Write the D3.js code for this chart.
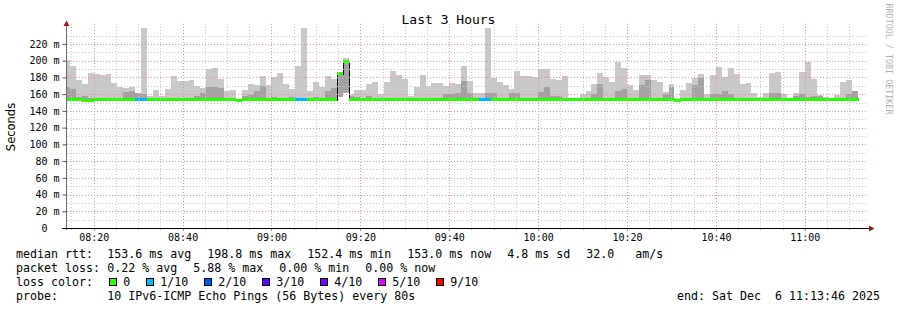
<!DOCTYPE html>
<html>
<head>
<meta charset="utf-8">
<script src="https://cdn.jsdelivr.net/npm/d3@7"></script>
<style>
  html, body { margin: 0; padding: 0; background: #fff; }
  svg { display: block; }
  text { font-family: "DejaVu Sans Mono", monospace; fill: #000; white-space: pre; }
</style>
</head>
<body>
<svg id="chart"></svg>
<script>
// one column per 80 s step, first one starts a little before the graph start
const firstStep = new Date(2025, 11, 6, 8, 13, 20);
const stepSeconds = 80;
const graphStart = new Date(2025, 11, 6, 8, 13, 46);
const graphEnd = new Date(2025, 11, 6, 11, 13, 46);

// median rtt per step (ms)
const median = [
  153.2, 153.2, 153.2, 152.6, 152.6, 153.2, 153.2, 153.2, 153.2, 153.2,
  153.2, 153.2, 153.2, 153.2, 153.2, 153.2, 153.2, 153.2, 153.2, 153.2,
  153.2, 153.2, 153.2, 153.2, 153.2, 153.2, 153.2, 153.2, 153.2, 152.4,
  153.2, 153.2, 153.2, 153.2, 153.2, 153.2, 153.2, 153.2, 153.2, 153.2,
  153.2, 153.2, 153.2, 153.2, 153.2, 153.2, 185.0, 199.6, 153.2, 153.2,
  153.2, 153.2, 153.2, 153.2, 153.2, 153.2, 153.2, 153.2, 153.2, 153.2,
  153.2, 153.2, 153.2, 153.2, 153.2, 153.2, 153.2, 153.2, 153.2, 153.2,
  153.2, 153.2, 153.2, 153.2, 153.2, 153.2, 153.2, 153.2, 153.2, 153.2,
  153.2, 153.2, 153.2, 153.2, 153.2, 153.2, 153.2, 153.2, 153.2, 153.2,
  153.2, 153.2, 153.2, 153.2, 153.2, 153.2, 153.2, 153.2, 153.2, 153.2,
  153.2, 153.2, 153.2, 152.4, 153.2, 153.2, 153.2, 153.2, 153.2, 153.2,
  153.2, 153.2, 153.2, 153.2, 153.2, 153.2, 153.2, 153.2, 153.2, 153.2,
  153.2, 153.2, 153.2, 153.2, 153.2, 153.2, 153.2, 153.2, 153.2, 153.2,
  153.2, 153.2, 153.2, 153.2
];

// smoke: outer (light) top, inner (dark) top, bottom (ms)
const smokeHigh = [
  200.8, 193.6, 176.8, 172, 185.2, 184, 182.8, 184, 173.2, 168.8,
  167.2, 168.4, 160.8, 238.8, 158, 164.8, 158, 166, 181.6, 175.6,
  175.6, 176.8, 170, 167.2, 190.4, 191.2, 178.4, 163.6, 164.8, 152.6,
  164.8, 171.6, 170.8, 181.6, 170.8, 180, 185.2, 172, 166, 193.6,
  238.8, 163.6, 174.4, 168.4, 181.6, 178, 185, 203, 160, 164.8,
  164.8, 171.6, 174.4, 159.6, 174.4, 187.6, 182.8, 178.4, 158, 168.4,
  182.8, 170, 173.2, 173.2, 170, 173.6, 172.4, 193.6, 176, 160.8,
  160.8, 239.2, 179.6, 174.4, 171.2, 166, 188, 181.6, 181.6, 180.8,
  189.6, 189.6, 178.4, 176.8, 181.6, 154.8, 155.6, 160, 164, 172,
  185.2, 180.4, 174.4, 198.4, 191.2, 170.8, 164.8, 182.8, 182.8, 176.8,
  174.4, 162.4, 172, 152.6, 164.8, 173.2, 179.2, 184, 159.6, 182.8,
  192.4, 180.4, 191.2, 184, 172, 173.2, 161.2, 156.4, 161.2, 185.2,
  186.4, 160, 155, 161.2, 186.4, 198.4, 178, 158.8, 156.4, 154,
  158.8, 174.4, 176.8, 163.6
];
const smokeDark = [
  168.8, 166, 156.8, 158, 155.6, 155, 154, 154, 154, 155.6,
  162, 163.6, 160.8, 160, 154, 154, 154, 154, 155, 155,
  154, 154, 158, 160.8, 168.8, 168.8, 166.8, 154, 154, 152.6,
  158, 158.8, 163.6, 170, 154, 156, 154, 154, 156, 154,
  154, 154, 156.4, 154, 163.6, 167, 185, 199, 158, 157,
  154, 158, 154, 154, 154, 154, 154, 154, 154, 154,
  154, 154, 155, 155, 160.4, 160.4, 161.6, 175.6, 161.6, 155,
  155, 160.8, 160.8, 154, 154, 161.6, 161.6, 154, 154, 154,
  162.8, 168.4, 158, 158, 154, 153.5, 154, 154, 154, 159.6,
  172, 154, 154, 163.6, 166, 154, 154, 170.8, 176.8, 154,
  154, 160, 168.8, 152.6, 154, 154, 170.8, 179.6, 154, 160,
  160, 163.6, 160, 154, 154, 154, 154, 154.8, 154.8, 161.2,
  161.2, 154, 153.5, 158, 160.4, 157, 158, 158, 154, 153.5,
  154, 155, 159.6, 163.6
];
const smokeLow = [
  152, 152, 152, 152, 152, 152, 152, 152, 152, 152,
  152, 152, 152, 152, 152, 152, 152, 152, 152, 152,
  152, 152, 152, 152, 152, 152, 152, 152, 152, 152,
  152, 152, 152, 152, 152, 152, 152, 152, 152, 152,
  152, 152, 152, 152, 152, 152, 157, 161, 153, 152,
  152, 152, 152, 152, 152, 152, 152, 152, 152, 152,
  152, 152, 152, 152, 152, 152, 152, 152, 152, 152,
  152, 152, 152, 152, 152, 152, 152, 152, 152, 152,
  152, 152, 152, 152, 152, 152, 152, 152, 152, 152,
  152, 152, 152, 152, 152, 152, 152, 152, 152, 152,
  152, 152, 152, 152, 152, 152, 152, 152, 152, 152,
  152, 152, 152, 152, 152, 152, 152, 152, 152, 152,
  152, 152, 152, 152, 152, 152, 152, 152, 152, 152,
  152, 152, 152, 152
];

// loss bucket per step (index into lossLabels)
const loss = [
  0, 0, 0, 0, 0, 0, 0, 0, 0, 0,
  0, 0, 1, 1, 0, 0, 0, 0, 0, 0,
  0, 0, 0, 0, 0, 0, 0, 0, 0, 0,
  0, 0, 0, 0, 0, 0, 0, 0, 0, 1,
  1, 0, 0, 0, 0, 0, 0, 0, 0, 0,
  0, 0, 0, 0, 0, 0, 0, 0, 0, 0,
  0, 0, 0, 0, 0, 0, 0, 0, 0, 0,
  1, 1, 0, 0, 0, 0, 0, 0, 0, 0,
  0, 0, 0, 0, 0, 0, 0, 0, 0, 0,
  0, 0, 0, 0, 0, 0, 0, 0, 0, 0,
  0, 0, 0, 0, 0, 0, 0, 0, 0, 0,
  0, 0, 0, 0, 0, 0, 0, 0, 0, 0,
  0, 0, 0, 0, 0, 0, 0, 0, 0, 0,
  0, 0, 0, 0
];

const lossLabels = ['0', '1/10', '2/10', '3/10', '4/10', '5/10', '9/10'];
const lossColors = ['#26ff00', '#00b8ff', '#0059ff', '#5e00ff', '#7e00ff', '#dd00ff', '#ff0000'];

const yTicks = [0, 20, 40, 60, 80, 100, 120, 140, 160, 180, 200, 220];

const legendRtt = ['median rtt:', '153.6 ms avg', '198.8 ms max', '152.4 ms min', '153.0 ms now', '4.8 ms sd', '32.0   am/s'];
const legendLoss = ['packet loss:', '0.22 % avg', '5.88 % max', '0.00 % min', '0.00 % now'];
const probeText = '10 IPv6-ICMP Echo Pings (56 Bytes) every 80s';
const endText = 'end: Sat Dec  6 11:13:46 2025';

// ---------------------------------------------------------------
const width = 897, height = 310;
const plot = {left: 66, right: 866, top: 27.2, bottom: 228};

const svg = d3.select('#chart').attr('width', width).attr('height', height);
svg.append('rect').attr('width', width).attr('height', height).attr('fill', '#fff');

const x = d3.scaleTime().domain([graphStart, graphEnd]).range([plot.left, plot.right]);
const y = d3.scaleLinear().domain([0, 240]).range([plot.bottom, plot.top]);

svg.append('clipPath').attr('id', 'plot-clip')
  .append('rect')
  .attr('x', plot.left).attr('y', 0)
  .attr('width', plot.right - plot.left).attr('height', plot.bottom);

const steps = median.map((m, i) => {
  const t0 = d3.timeSecond.offset(firstStep, i * stepSeconds);
  return {
    t0, t1: d3.timeSecond.offset(t0, stepSeconds),
    med: m, hi: smokeHigh[i], dk: smokeDark[i], lo: smokeLow[i], loss: loss[i]
  };
});

const data = svg.append('g').attr('clip-path', 'url(#plot-clip)').attr('shape-rendering', 'crispEdges');

// smoke
data.selectAll('.smoke-light').data(steps).join('rect')
  .attr('class', 'smoke-light')
  .attr('x', d => x(d.t0)).attr('width', d => x(d.t1) - x(d.t0))
  .attr('y', d => y(d.hi)).attr('height', d => Math.max(0, y(d.lo) - y(d.hi)))
  .attr('fill', '#c8c8c8');

data.selectAll('.smoke-dark').data(steps).join('rect')
  .attr('class', 'smoke-dark')
  .attr('x', d => x(d.t0)).attr('width', d => x(d.t1) - x(d.t0))
  .attr('y', d => y(d.dk)).attr('height', d => Math.max(0, y(d.lo) - y(d.dk)))
  .attr('fill', '#a2a2a2');

// grid on top of the smoke, like rrdtool
const grid = svg.append('g').attr('shape-rendering', 'crispEdges');
const hLines = d3.range(10, 240, 10);
const vLines = d3.timeMinute.every(5).range(graphStart, graphEnd);

grid.selectAll('.hgrid').data(hLines).join('line')
  .attr('class', 'hgrid')
  .attr('x1', plot.left + 1).attr('x2', plot.right)
  .attr('y1', d => Math.round(y(d)) + 0.5).attr('y2', d => Math.round(y(d)) + 0.5)
  .attr('stroke', d => d % 20 === 0 ? '#eb9090' : '#c8c8c8')
  .attr('stroke-dasharray', '1,2');

grid.selectAll('.vgrid').data(vLines).join('line')
  .attr('class', 'vgrid')
  .attr('x1', d => Math.round(x(d)) + 0.5).attr('x2', d => Math.round(x(d)) + 0.5)
  .attr('y1', plot.top - 3).attr('y2', plot.bottom)
  .attr('stroke', d => d.getMinutes() % 20 === 0 ? '#eb9090' : '#c8c8c8')
  .attr('stroke-dasharray', '1,2');

// median line: black risers where the median jumps, loss-coloured steps
const jumps = [];
steps.forEach((d, i) => {
  if (i > 0 && Math.abs(d.med - steps[i - 1].med) > 5) jumps.push({t: d.t0, a: steps[i - 1].med, b: d.med});
});

data.selectAll('.riser').data(jumps).join('line')
  .attr('class', 'riser')
  .attr('x1', d => Math.round(x(d.t)) + 0.5).attr('x2', d => Math.round(x(d.t)) + 0.5)
  .attr('y1', d => y(d.a) + 1.5).attr('y2', d => y(d.b) + 1.5)
  .attr('stroke', '#000');

data.selectAll('.median').data(steps).join('rect')
  .attr('class', 'median')
  .attr('x', d => x(d.t0)).attr('width', d => x(d.t1) - x(d.t0) + 0.5)
  .attr('y', d => y(d.med) - 1.5).attr('height', 3)
  .attr('fill', d => lossColors[d.loss]);

// axes
const yAxis = d3.axisLeft(y).tickValues(yTicks).tickSize(4).tickPadding(3)
  .tickFormat(d => d === 0 ? '0' : `${d} m`);
const yAxisG = svg.append('g').attr('transform', `translate(${plot.left + 0.5},0)`)
  .call(yAxis)
  .call(g => g.select('.domain').remove());
yAxisG.selectAll('.tick line').attr('stroke', '#555');
yAxisG.selectAll('.tick text').attr('font-size', '10px').attr('font-family', 'DejaVu Sans Mono')
  .attr('dx', d => d === 0 ? -12 : 0);

const xMinor = d3.timeMinute.every(5).range(graphStart, graphEnd);
svg.append('g').selectAll('line').data(xMinor).join('line')
  .attr('x1', d => Math.round(x(d)) + 0.5).attr('x2', d => Math.round(x(d)) + 0.5)
  .attr('y1', plot.bottom)
  .attr('y2', d => plot.bottom + (d.getMinutes() % 20 === 0 ? 3 : 2))
  .attr('stroke', d => d.getMinutes() % 20 === 0 ? '#e07070' : '#bbb');

const xAxis = d3.axisBottom(x).ticks(d3.timeMinute.every(20)).tickSize(0).tickPadding(6)
  .tickFormat(d3.timeFormat('%H:%M'));
svg.append('g').attr('transform', `translate(0,${plot.bottom})`)
  .call(xAxis)
  .call(g => g.select('.domain').remove())
  .call(g => g.selectAll('text').attr('font-size', '10px').attr('font-family', 'DejaVu Sans Mono'));

// axis lines and arrows
svg.append('line')
  .attr('x1', plot.left + 0.5).attr('x2', plot.left + 0.5)
  .attr('y1', plot.bottom + 2).attr('y2', 24)
  .attr('stroke', '#6a6a6a');
svg.append('line')
  .attr('x1', 62).attr('x2', 870)
  .attr('y1', plot.bottom + 0.5).attr('y2', plot.bottom + 0.5)
  .attr('stroke', '#000');
svg.append('path')
  .attr('d', `M${plot.left - 2.5},26 L${plot.left + 3.5},26 L${plot.left + 0.5},20.5 Z`)
  .attr('fill', '#8b2020');
svg.append('path')
  .attr('d', `M869,${plot.bottom - 2.5} L869,${plot.bottom + 3.5} L874.5,${plot.bottom + 0.5} Z`)
  .attr('fill', '#8b2020');

// titles
svg.append('text')
  .attr('x', 448.5).attr('y', 24)
  .attr('text-anchor', 'middle')
  .attr('font-size', '13px')
  .text('Last 3 Hours');

svg.append('text')
  .attr('transform', 'translate(14.5,127) rotate(-90)')
  .attr('text-anchor', 'middle')
  .style('font-family', '"DejaVu Sans", sans-serif')
  .attr('font-size', '11.5px')
  .text('Seconds');

svg.append('text')
  .attr('transform', 'translate(885.5,3.5) rotate(90)')
  .attr('font-size', '8.4px')
  .style('fill', '#b0b0b0')
  .text('RRDTOOL / TOBI OETIKER');

// legend
const legend = svg.append('g').attr('font-size', '11.63px');
const valueX = 107.3, itemGap = 16;

function legendRow(items, baseline) {
  legend.append('text').attr('x', 16).attr('y', baseline).text(items[0]);
  let cx = valueX;
  items.slice(1).forEach(s => {
    const t = legend.append('text').attr('x', cx).attr('y', baseline).text(s);
    cx += t.node().getComputedTextLength() + itemGap;
  });
}

legendRow(legendRtt, 258);
legendRow(legendLoss, 272);

legend.append('text').attr('x', 16).attr('y', 286).text('loss color:');
let bx = 108.7;
lossLabels.forEach((lab, i) => {
  legend.append('rect')
    .attr('x', Math.round(bx) + 0.5).attr('y', 278.5)
    .attr('width', 7).attr('height', 7)
    .attr('fill', lossColors[i]).attr('stroke', '#000')
    .attr('shape-rendering', 'crispEdges');
  const t = legend.append('text').attr('x', bx + 14.6).attr('y', 286).text(lab);
  bx += 14.6 + t.node().getComputedTextLength() + 15.4;
});

legend.append('text').attr('x', 16).attr('y', 300).text('probe:');
legend.append('text').attr('x', valueX).attr('y', 300).text(probeText);
legend.append('text').attr('x', 880).attr('y', 300).attr('text-anchor', 'end').text(endText);
</script>
</body>
</html>
